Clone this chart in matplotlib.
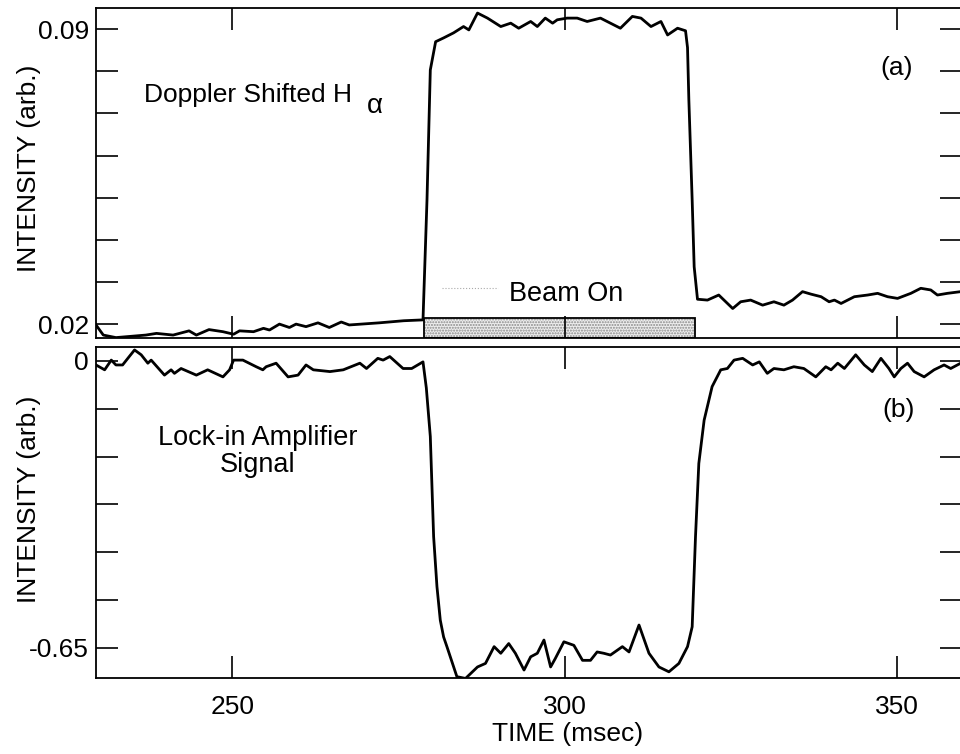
import numpy as np
import matplotlib
matplotlib.use("Agg")
import matplotlib.pyplot as plt
from matplotlib.patches import Rectangle

plt.rcParams["font.family"] = ["Liberation Sans", "DejaVu Sans"]

# (a) Doppler shifted H-alpha intensity
halpha_time = [
    229.5, 230.6, 232.5, 237.0, 238.6, 241.1, 243.5, 244.6, 246.5, 248.6,
    250.2, 251.1, 253.2, 254.7, 255.6, 257.1, 258.6, 259.6, 261.1, 262.9,
    264.6, 266.4, 267.6, 272.1, 275.8, 278.7, 279.3, 279.8, 280.6, 281.8,
    283.3, 284.8, 285.6, 286.9, 288.4, 290.4, 291.9, 293.1, 294.9, 295.9,
    297.1, 298.2, 298.9, 300.4, 301.9, 303.4, 305.4, 306.9, 308.4, 310.2,
    311.5, 313.0, 314.5, 315.5, 317.0, 318.2, 318.5, 318.7, 319.2, 319.5,
    320.0, 321.5, 323.2, 325.3, 326.5, 328.0, 329.8, 331.5, 333.0, 334.3,
    335.8, 337.1, 338.6, 339.8, 340.6, 341.6, 343.6, 345.6, 347.1, 348.6,
    350.1, 352.1, 353.6, 355.1, 356.1, 357.6, 359.6,
]
halpha_intensity = [
    0.0198, 0.0174, 0.0168, 0.0174, 0.0178, 0.0174, 0.0184, 0.0174, 0.0187, 0.0182,
    0.0176, 0.0184, 0.0182, 0.0190, 0.0186, 0.0200, 0.0192, 0.0200, 0.0194, 0.0203,
    0.0192, 0.0205, 0.0198, 0.0203, 0.0208, 0.0210, 0.0494, 0.0803, 0.0870, 0.0879,
    0.0891, 0.0906, 0.0898, 0.0938, 0.0926, 0.0906, 0.0914, 0.0902, 0.0918, 0.0906,
    0.0926, 0.0914, 0.0922, 0.0926, 0.0926, 0.0918, 0.0926, 0.0914, 0.0902, 0.0930,
    0.0926, 0.0906, 0.0918, 0.0886, 0.0902, 0.0896, 0.0856, 0.0732, 0.0494, 0.0336,
    0.0259, 0.0257, 0.0269, 0.0237, 0.0253, 0.0257, 0.0245, 0.0253, 0.0245, 0.0257,
    0.0277, 0.0271, 0.0265, 0.0253, 0.0257, 0.0249, 0.0265, 0.0269, 0.0273, 0.0265,
    0.0261, 0.0273, 0.0285, 0.0281, 0.0269, 0.0273, 0.0277,
]

# (b) lock-in amplifier signal
lockin_time = [
    229.5, 230.8, 231.8, 232.5, 233.5, 234.5, 235.3, 236.3, 237.3, 237.8,
    239.8, 240.8, 241.3, 242.3, 244.6, 246.3, 248.6, 249.6, 250.2, 251.6,
    253.6, 254.6, 255.1, 256.6, 258.4, 259.9, 261.1, 262.2, 264.7, 266.7,
    269.2, 270.2, 271.9, 272.7, 273.7, 275.7, 277.0, 278.7, 279.2, 279.8,
    280.3, 280.8, 281.3, 281.8, 282.3, 283.8, 285.1, 286.9, 288.1, 289.4,
    290.4, 291.6, 292.6, 293.9, 294.9, 295.9, 296.9, 297.9, 298.6, 299.9,
    301.4, 302.7, 303.9, 304.9, 305.9, 306.9, 308.7, 309.7, 311.2, 312.7,
    314.2, 315.7, 317.2, 318.5, 319.2, 319.7, 320.2, 321.0, 322.2, 323.5,
    324.5, 325.5, 326.8, 328.3, 329.3, 330.5, 331.5, 333.0, 334.5, 336.0,
    337.8, 339.3, 340.1, 341.1, 342.1, 343.8, 345.1, 346.3, 347.6, 348.8,
    349.6, 350.6, 351.6, 352.6, 354.1, 355.6, 357.1, 358.1, 359.6,
]
lockin_signal = [
    -0.009, -0.020, 0.002, -0.009, -0.009, 0.010, 0.025, 0.014, -0.005, 0.002,
    -0.032, -0.020, -0.028, -0.017, -0.032, -0.020, -0.036, -0.020, 0.002, 0.002,
    -0.013, -0.020, -0.013, -0.005, -0.036, -0.032, -0.009, -0.020, -0.024, -0.020,
    -0.005, -0.017, 0.006, 0.002, 0.010, -0.017, -0.017, -0.002, -0.061, -0.171,
    -0.398, -0.511, -0.587, -0.625, -0.647, -0.715, -0.719, -0.693, -0.685, -0.647,
    -0.662, -0.640, -0.662, -0.700, -0.670, -0.662, -0.632, -0.693, -0.674, -0.636,
    -0.644, -0.678, -0.678, -0.659, -0.662, -0.666, -0.647, -0.659, -0.598, -0.662,
    -0.693, -0.704, -0.685, -0.647, -0.602, -0.398, -0.232, -0.134, -0.058, -0.020,
    -0.017, 0.002, 0.006, -0.009, -0.002, -0.028, -0.017, -0.020, -0.013, -0.017,
    -0.036, -0.013, -0.020, -0.005, -0.017, 0.014, -0.009, -0.024, 0.006, -0.017,
    -0.036, -0.017, -0.005, -0.024, -0.036, -0.020, -0.009, -0.017, -0.005,
]

beam_on = (278.9, 319.7)
beam_top = 0.0214

time_ticks = [250, 300, 350]
halpha_ticks = np.arange(0.02, 0.0901, 0.01)
halpha_labels = ["0.02", "", "", "", "", "", "", "0.09"]
lockin_ticks = np.linspace(0, -0.65, 7)
lockin_labels = ["0", "", "", "", "", "", "-0.65"]

FS = 19

fig = plt.figure(figsize=(9.6, 7.54), dpi=100)
ax_a = fig.add_axes([0.1, 0.5517, 0.9021, 0.4377])
ax_b = fig.add_axes([0.1, 0.1008, 0.9021, 0.4390])

for ax in (ax_a, ax_b):
    ax.set_xlim(229.5, 359.8)
    ax.set_xticks(time_ticks)
    ax.tick_params(direction="in", length=16, width=1.2, top=True, right=True,
                   labelsize=FS, pad=5)
    for sp in ax.spines.values():
        sp.set_linewidth(1.3)

# panel (a)
ax_a.plot(halpha_time, halpha_intensity, color="black", lw=2.0)
ax_a.set_ylim(0.0167, 0.095)
ax_a.set_yticks(halpha_ticks, halpha_labels)
ax_a.set_xticklabels([])
ax_a.set_ylabel("INTENSITY (arb.)", fontsize=FS)
ax_a.yaxis.set_label_coords(-0.064, 0.515)

y0 = ax_a.get_ylim()[0]
ax_a.add_patch(Rectangle((beam_on[0], y0), beam_on[1] - beam_on[0], beam_top - y0,
                         facecolor="#eeeeee", edgecolor="#8a8a8a", hatch="......",
                         lw=0, zorder=1))
ax_a.add_patch(Rectangle((beam_on[0], y0), beam_on[1] - beam_on[0], beam_top - y0,
                         fill=False, edgecolor="black", lw=1.3, zorder=2))
ax_a.plot([281.6, 290.0], [0.0286, 0.0286], color="#aaaaaa", lw=0.8, ls=":")
ax_a.text(300.2, 0.0255, "Beam On", fontsize=FS + 0.5, ha="center", va="baseline")

ax_a.text(0.0555, 0.715, "Doppler Shifted H", transform=ax_a.transAxes,
          fontsize=FS, ha="left", va="baseline")
ax_a.text(0.313, 0.682, "\u03b1", transform=ax_a.transAxes,
          fontsize=FS + 1, ha="left", va="baseline")
ax_a.text(0.925, 0.818, "(a)", transform=ax_a.transAxes,
          fontsize=FS, ha="center", va="center")

# panel (b)
ax_b.plot(lockin_time, lockin_signal, color="black", lw=2.0)
ax_b.set_ylim(-0.718, 0.0317)
ax_b.set_yticks(lockin_ticks, lockin_labels)
ax_b.tick_params(axis="x", pad=12)
ax_b.set_ylabel("INTENSITY (arb.)", fontsize=FS)
ax_b.yaxis.set_label_coords(-0.064, 0.541)
ax_b.set_xlabel("TIME (msec)", fontsize=FS)
ax_b.xaxis.set_label_coords(0.545, -0.134)

ax_b.text(0.1865, 0.704, "Lock-in Amplifier", transform=ax_b.transAxes,
          fontsize=FS + 0.5, ha="center", va="baseline")
ax_b.text(0.1865, 0.622, "Signal", transform=ax_b.transAxes,
          fontsize=FS + 0.5, ha="center", va="baseline")
ax_b.text(0.927, 0.810, "(b)", transform=ax_b.transAxes,
          fontsize=FS, ha="center", va="center")

fig.savefig("out.png", dpi=100)
